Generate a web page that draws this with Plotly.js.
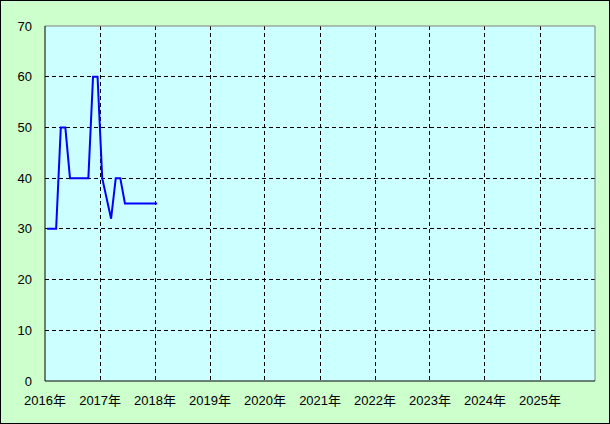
<!DOCTYPE html>
<html><head><meta charset="utf-8">
<script src="https://cdn.plot.ly/plotly-3.0.1.min.js"></script>
<style>
html,body{margin:0;padding:0;background:#ccffcc;}
#wrap{position:relative;width:610px;height:424px;}
#frame{position:absolute;left:0;top:0;width:610px;height:424px;box-sizing:border-box;border:1px solid #000;pointer-events:none;}
</style></head>
<body><div id="wrap"><div id="chart"></div><div id="frame"></div></div>
<script>
const months = ['2016-01-15','2016-02-15','2016-03-15','2016-04-15','2016-05-15','2016-06-15','2016-07-15','2016-08-15','2016-09-15','2016-10-15','2016-11-15','2016-12-15','2017-01-15','2017-02-15','2017-03-15','2017-04-15','2017-05-15','2017-06-15','2017-07-15','2017-08-15','2017-09-15','2017-10-15','2017-11-15','2017-12-15','2018-01-15'];
const values = [30,30,30,50,50,40,40,40,40,40,60,60,40,36,32,40,40,35,35,35,35,35,35,35,35];
const tickDates = ['2016-01-01','2017-01-01','2018-01-01','2019-01-01','2020-01-01','2021-01-01','2022-01-01','2023-01-01','2024-01-01','2025-01-01'];
const tickLabels = ['2016年','2017年','2018年','2019年','2020年','2021年','2022年','2023年','2024年','2025年'];

const font = {family:'"Liberation Sans", Arial, "Noto Sans CJK JP", sans-serif', size:13, color:'#000'};
Plotly.newPlot('chart', [{
  x: months, y: values, type:'scatter', mode:'lines',
  line:{color:'#0000ff', width:2}, hoverinfo:'skip'
}], {
  width:610, height:424,
  margin:{l:45, r:15, t:26, b:43},
  paper_bgcolor:'#ccffcc', plot_bgcolor:'#ccffff',
  font: font,
  showlegend:false,
  xaxis:{type:'date', range:['2016-01-01','2026-01-01'], tickvals:tickDates, ticktext:tickLabels,
    showgrid:true, gridcolor:'#000', gridwidth:1, griddash:'4px,3px',
    ticks:'', ticklabelstandoff:10, showline:false, zeroline:false, fixedrange:true},
  yaxis:{range:[0,70], dtick:10, tick0:0, showgrid:true, gridcolor:'#000', gridwidth:1, griddash:'4px,3px',
    ticks:'', ticklabelstandoff:12, showline:false, zeroline:false, fixedrange:true},
  shapes:[
    {type:'line', xref:'paper', yref:'paper', x0:0, x1:1, y0:1, y1:1, line:{color:'#808080', width:1}},
    {type:'line', xref:'paper', yref:'paper', x0:1, x1:1, y0:0, y1:1, line:{color:'#808080', width:1}},
    {type:'line', xref:'paper', yref:'paper', x0:0, x1:1, y0:0, y1:0, line:{color:'#000', width:1}},
    {type:'line', xref:'paper', yref:'paper', x0:0, x1:0, y0:0, y1:1, line:{color:'#000', width:1}}
  ]
}, {staticPlot:true});
</script></body></html>
